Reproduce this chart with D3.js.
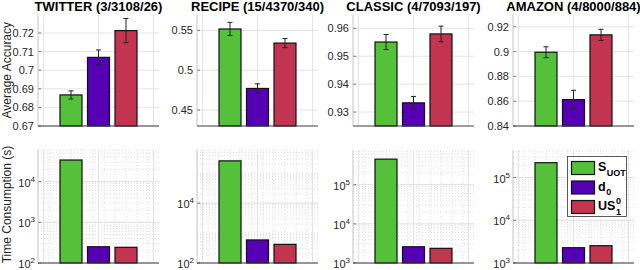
<!DOCTYPE html>
<html>
<head>
<meta charset="utf-8">
<script src="https://cdn.jsdelivr.net/npm/d3@7"></script>
<style>
  body { margin: 0; background: #fff; }
  svg { display: block; font-family: "Liberation Sans", Arial, Helvetica, sans-serif; }
  .tick-label { font-size: 11px; fill: #262626; }
  .title { font-size: 13px; font-weight: bold; fill: #000; }
  .ylab { font-size: 12px; fill: #262626; }
</style>
</head>
<body>
<div id="chart"></div>
<script>
// Datasets (classes/documents/vocabulary) and methods
const datasets = ["TWITTER (3/3108/26)", "RECIPE (15/4370/340)", "CLASSIC (4/7093/197)", "AMAZON (4/8000/884)"];
const methods = ["S_UOT", "d_0", "US_1^0"];
const colors = ["#55c13a", "#5500b5", "#c2344f"];

// Average accuracy (mean and half error bar), per dataset, per method
const accMean = [
  [0.6867, 0.7069, 0.7213],
  [0.5517, 0.4771, 0.5340],
  [0.9551, 0.9333, 0.9580],
  [0.8995, 0.8613, 0.9135]
];
const accErr = [
  [0.0022, 0.0040, 0.0065],
  [0.0082, 0.0058, 0.0057],
  [0.0027, 0.0023, 0.0028],
  [0.0044, 0.0075, 0.0045]
];
const accDomain = [[0.67, 0.73], [0.43, 0.57], [0.925, 0.965], [0.84, 0.93]];
const accTicks = [
  [0.67, 0.68, 0.69, 0.70, 0.71, 0.72],
  [0.45, 0.50, 0.55],
  [0.93, 0.94, 0.95, 0.96],
  [0.84, 0.86, 0.88, 0.90, 0.92]
];
const accTickText = [
  ["0.67", "0.68", "0.69", "0.7", "0.71", "0.72"],
  ["0.45", "0.5", "0.55"],
  ["0.93", "0.94", "0.95", "0.96"],
  ["0.84", "0.86", "0.88", "0.9", "0.92"]
];

// Time consumption in seconds (log scale)
const timeVals = [
  [34000, 251, 243],
  [260000, 590, 420],
  [450000, 2600, 2370],
  [222000, 2280, 2540]
];
const timeDomain = [[1e2, 6e4], [1e2, 6e5], [1e3, 7.7e5], [1e3, 4.4e5]];
const timeTicks = [[2, 3, 4], [2, 4], [3, 4, 5], [3, 4, 5]]; // exponents

const W = 640, H = 270;
const panelLeft = [38, 197, 353, 513];
const panelW = 121;
const topY = [14.4, 126];
const botY = [150, 263];
const xs = [1, 2, 3];

const svg = d3.select("#chart").append("svg")
  .attr("width", W).attr("height", H);

function drawFrame(g, x, y0, y1) {
  // y axis line (light) and x axis line (dark)
  g.append("line")
    .attr("x1", x.range()[0]).attr("x2", x.range()[0])
    .attr("y1", y0).attr("y2", y1)
    .attr("stroke", "#c4c4c4").attr("stroke-width", 1);
  g.append("line")
    .attr("x1", x.range()[0]).attr("x2", x.range()[1])
    .attr("y1", y1).attr("y2", y1)
    .attr("stroke", "#3c3c3c").attr("stroke-width", 1);
}

datasets.forEach((name, i) => {
  const left = panelLeft[i];
  const x = d3.scaleLinear().domain([-0.2, 4.2]).range([left, left + panelW]);
  const bw = x(0.8) - x(0);

  // ---------- accuracy panel ----------
  const gA = svg.append("g");
  const yA = d3.scaleLinear().domain(accDomain[i]).range([topY[1], topY[0]]);

  // vertical grid at 0, 2, 4
  [0, 2, 4].forEach(v => {
    gA.append("line")
      .attr("x1", x(v)).attr("x2", x(v))
      .attr("y1", topY[0]).attr("y2", topY[1])
      .attr("stroke", "#e3e3e3").attr("stroke-width", 1);
  });
  accTicks[i].forEach((t, k) => {
    gA.append("line")
      .attr("x1", x.range()[0]).attr("x2", x.range()[1])
      .attr("y1", yA(t)).attr("y2", yA(t))
      .attr("stroke", "#e3e3e3").attr("stroke-width", 1);
    gA.append("line")
      .attr("x1", x.range()[0]).attr("x2", x.range()[0] + 3)
      .attr("y1", yA(t)).attr("y2", yA(t))
      .attr("stroke", "#555").attr("stroke-width", 0.8);
    gA.append("text")
      .attr("class", "tick-label")
      .attr("x", left - 4).attr("y", yA(t) + 4)
      .attr("text-anchor", "end")
      .text(accTickText[i][k]);
  });

  gA.selectAll("rect.bar").data(accMean[i]).enter().append("rect")
    .attr("x", (d, j) => x(xs[j]) - bw / 2)
    .attr("y", d => yA(d))
    .attr("width", bw)
    .attr("height", d => topY[1] - yA(d))
    .attr("fill", (d, j) => colors[j])
    .attr("stroke", "#111").attr("stroke-width", 1.2);

  accMean[i].forEach((m, j) => {
    const e = accErr[i][j];
    const cx = x(xs[j]);
    gA.append("line")
      .attr("x1", cx).attr("x2", cx)
      .attr("y1", yA(m - e)).attr("y2", yA(m + e))
      .attr("stroke", "#222").attr("stroke-width", 1);
    [m - e, m + e].forEach(v => {
      gA.append("line")
        .attr("x1", cx - 2.5).attr("x2", cx + 2.5)
        .attr("y1", yA(v)).attr("y2", yA(v))
        .attr("stroke", "#222").attr("stroke-width", 1);
    });
  });

  drawFrame(gA, x, topY[0], topY[1]);

  gA.append("text")
    .attr("class", "title")
    .attr("x", (x.range()[0] + x.range()[1]) / 2)
    .attr("y", 11)
    .attr("text-anchor", "middle")
    .text(name);

  // ---------- time panel ----------
  const gT = svg.append("g");
  const yT = d3.scaleLog().domain(timeDomain[i]).range([botY[1], botY[0]]);
  const lo = Math.round(Math.log10(timeDomain[i][0]));
  const hi = Math.ceil(Math.log10(timeDomain[i][1]));

  // minor grid (dotted)
  for (let p = lo; p < hi; p++) {
    for (let m = 1; m <= 9; m++) {
      const v = m * Math.pow(10, p);
      if (v <= timeDomain[i][0] || v > timeDomain[i][1]) continue;
      gT.append("line")
        .attr("x1", x.range()[0]).attr("x2", x.range()[1])
        .attr("y1", yT(v)).attr("y2", yT(v))
        .attr("stroke", "#d6d6d6").attr("stroke-width", 0.8)
        .attr("stroke-dasharray", "1,2");
    }
  }
  d3.range(-0.2, 4.2, 0.4).forEach(v => {
    if (Math.abs(v) < 1e-6 || Math.abs(v - 2) < 1e-6 || v < 0) return;
    gT.append("line")
      .attr("x1", x(v)).attr("x2", x(v))
      .attr("y1", botY[0]).attr("y2", botY[1])
      .attr("stroke", "#d6d6d6").attr("stroke-width", 0.8)
      .attr("stroke-dasharray", "1,2");
  });
  [0, 2, 4].forEach(v => {
    gT.append("line")
      .attr("x1", x(v)).attr("x2", x(v))
      .attr("y1", botY[0]).attr("y2", botY[1])
      .attr("stroke", "#e3e3e3").attr("stroke-width", 1);
  });

  timeTicks[i].forEach(p => {
    const v = Math.pow(10, p);
    const y = yT(v);
    gT.append("line")
      .attr("x1", x.range()[0]).attr("x2", x.range()[1])
      .attr("y1", y).attr("y2", y)
      .attr("stroke", "#e0e0e0").attr("stroke-width", 1);
    gT.append("line")
      .attr("x1", x.range()[0]).attr("x2", x.range()[0] + 3)
      .attr("y1", y).attr("y2", y)
      .attr("stroke", "#555").attr("stroke-width", 0.8);
    const t = gT.append("text")
      .attr("class", "tick-label")
      .attr("x", left - 3).attr("y", y + 5)
      .attr("text-anchor", "end");
    t.append("tspan").text("10");
    t.append("tspan").attr("dy", -5).style("font-size", "8px").text(p);
  });

  gT.selectAll("rect.bar").data(timeVals[i]).enter().append("rect")
    .attr("x", (d, j) => x(xs[j]) - bw / 2)
    .attr("y", d => yT(d))
    .attr("width", bw)
    .attr("height", d => botY[1] - yT(d))
    .attr("fill", (d, j) => colors[j])
    .attr("stroke", "#111").attr("stroke-width", 1.2);

  drawFrame(gT, x, botY[0], botY[1]);
});

// y axis labels
svg.append("text")
  .attr("class", "ylab")
  .attr("transform", `translate(11,${(topY[0] + topY[1]) / 2}) rotate(-90)`)
  .attr("text-anchor", "middle")
  .text("Average Accuracy");
svg.append("text")
  .attr("class", "ylab")
  .attr("transform", `translate(11,${(botY[0] + botY[1]) / 2 - 2}) rotate(-90)`)
  .attr("text-anchor", "middle")
  .text("Time Consumption (s)");

// Legend
const lg = svg.append("g").attr("transform", "translate(567.5,156.5)");
lg.append("rect")
  .attr("width", 59).attr("height", 60)
  .attr("fill", "#fff").attr("stroke", "#333").attr("stroke-width", 0.8);

methods.forEach((m, j) => {
  const yy = 5 + j * 19.5;
  lg.append("rect")
    .attr("x", 4).attr("y", yy)
    .attr("width", 23).attr("height", 13)
    .attr("fill", colors[j]).attr("stroke", "#111").attr("stroke-width", 1.2);
  const [base, rest] = m.split("_");
  const main = lg.append("text")
    .attr("x", 30.5).attr("y", yy + 9.5)
    .style("font-size", "12.5px").style("font-weight", "bold").attr("fill", "#000")
    .text(base);
  const w = main.node().getComputedTextLength();
  if (rest.includes("^")) {
    const [sub, sup] = rest.split("^");
    lg.append("text")
      .attr("x", 30.5 + w + 0.5).attr("y", yy + 3.5)
      .style("font-size", "9px").style("font-weight", "bold").text(sup);
    lg.append("text")
      .attr("x", 30.5 + w + 0.5).attr("y", yy + 14)
      .style("font-size", "9px").style("font-weight", "bold").text(sub);
  } else {
    lg.append("text")
      .attr("x", 30.5 + w + 0.5).attr("y", yy + 14)
      .style("font-size", "9px").style("font-weight", "bold").text(rest);
  }
});
</script>
</body>
</html>
